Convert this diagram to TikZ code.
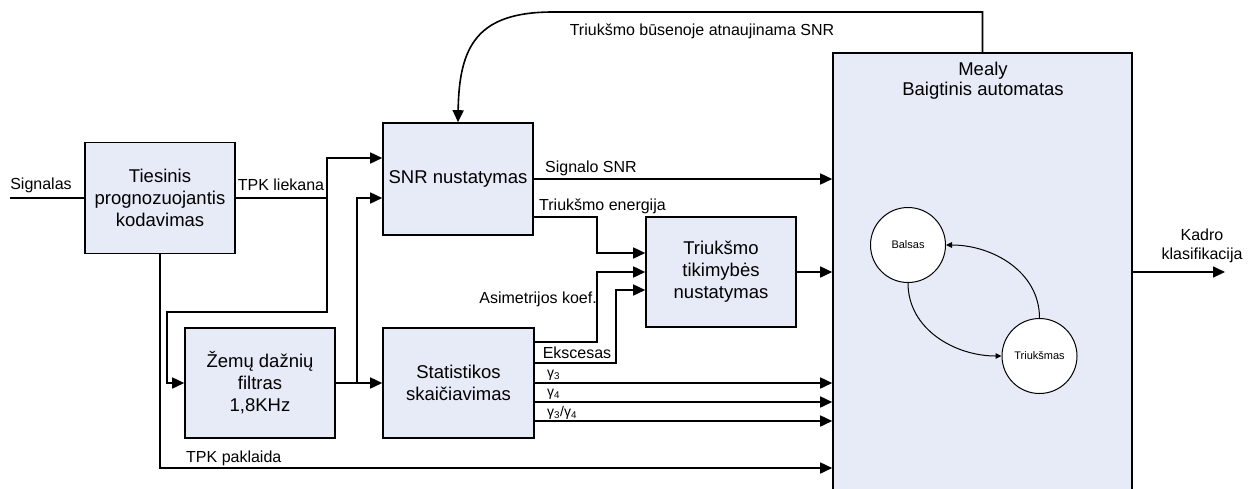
\documentclass[tikz,border=0pt]{standalone}
\usepackage{fontspec}
\setmainfont{Liberation Sans}
\usetikzlibrary{arrows.meta,calc}
\definecolor{boxfill}{RGB}{231,235,247}
\tikzset{
  blockbox/.style={draw=black, fill=boxfill, line width=1.6pt, align=center,
    font=\fontsize{18.5}{22}\selectfont, inner sep=0pt},
  lbl/.style={font=\fontsize{16}{18.5}\selectfont, inner sep=0pt, align=center},
  glbl/.style={font=\fontsize{14}{15}\selectfont, inner sep=0pt, anchor=west},
  wire/.style={line width=1.6pt},
  arr/.style={wire, -{Triangle[length=12pt,width=11pt]}},
  state/.style={circle, draw=black, fill=white, line width=1pt,
    minimum size=75pt, inner sep=0pt, font=\fontsize{11}{12}\selectfont},
  trans/.style={line width=1pt, -{Triangle[length=6pt,width=5.5pt]}}
}
\begin{document}
\begin{tikzpicture}[x=1pt, y=-1pt]
\useasboundingbox (0,0) rectangle (1255,488);

% processing blocks
\node[blockbox, minimum width=150pt, minimum height=111pt] (lpc) at (160,198)
  {Tiesinis\\prognozuojantis\\kodavimas};
\node[blockbox, minimum width=150pt, minimum height=112pt] (snr) at (458,179)
  {SNR nustatymas};
\node[blockbox, minimum width=150pt, minimum height=110pt] (lpf) at (260,383)
  {Žemų dažnių\\filtras\\1,8KHz};
\node[blockbox, minimum width=151pt, minimum height=110pt] (stat) at (458.5,383)
  {Statistikos\\skaičiavimas};
\node[blockbox, minimum width=150pt, minimum height=110pt] (prob) at (721,272)
  {Triukšmo\\tikimybės\\nustatymas};

% finite state machine block (runs past the lower edge)
\begin{scope}
  \clip (0,0) rectangle (1255,488);
  \node[blockbox, minimum width=299pt, minimum height=442pt] (mealy) at (982.5,274) {};
\end{scope}
\node[lbl, font=\fontsize{18.5}{20}\selectfont] (mtitle) at (983,81) {Mealy\\Baigtinis automatas};

\node[state] (balsas) at (908,245) {Balsas};
\node[state] (triuk) at (1039.5,356) {Triukšmas};
\draw[trans] (balsas.south) to[out=-90, in=180] (triuk.west);
\draw[trans] (triuk.north) to[out=90, in=0] (balsas.east);

% input signal
\coordinate (sigin) at (10,198);
\draw[wire] (sigin) -- (lpc.west);
\node[lbl] (lsig) at (41,185) {Signalas};

% LPC residual to SNR estimation and low-pass filter
\draw[arr] (lpc.east) -- (327,198) |- ($(snr.west)+(0,-21)$);
\draw[arr] (327,198) -- (327,312) -- (167,312) |- (lpf.west);
\node[lbl] (lres) at (281,185) {TPK liekana};

% filtered signal
\draw[arr] (lpf.east) -- (stat.west);
\draw[arr] (357,383) |- ($(snr.west)+(0,19)$);

% LPC error to the state machine
\coordinate (perr) at (160,468);
\draw[arr] (lpc.south) -- (perr) -- (perr -| mealy.west);
\node[lbl, anchor=west] (lerr) at (186,458) {TPK paklaida};

% SNR outputs
\draw[arr] (snr.east) -- (snr.east -| mealy.west);
\node[lbl, anchor=west] (lsnr) at (545,168) {Signalo SNR};
\draw[arr] ($(snr.east)+(0,38)$) -- (597,217) |- ($(prob.west)+(0,-19)$);
\node[lbl, anchor=west] (lene) at (539,206) {Triukšmo energija};

% statistics to noise probability
\draw[arr] ($(stat.east)+(0,-41)$) -- (597,342) |- (prob.west);
\node[lbl, anchor=east] (lasy) at (597,299) {Asimetrijos koef.};
\draw[arr] ($(stat.east)+(0,-20)$) -- (616,363) |- ($(prob.west)+(0,18)$);
\node[lbl] (lkur) at (577,353) {Ekscesas};

% statistics to the state machine
\draw[arr] (stat.east) -- (stat.east -| mealy.west);
\draw[arr] ($(stat.east)+(0,19)$) -- ($(stat.east -| mealy.west)+(0,19)$);
\draw[arr] ($(stat.east)+(0,38)$) -- ($(stat.east -| mealy.west)+(0,38)$);
\node[glbl] (lg3) at (547,375) {γ\textsubscript{3}};
\node[glbl] (lg4) at (547,394) {γ\textsubscript{4}};
\node[glbl] (lg34) at (547,413) {γ\textsubscript{3}/γ\textsubscript{4}};

% noise probability to the state machine
\draw[arr] (prob.east) -- (prob.east -| mealy.west);

% feedback: SNR update in noise state
\draw[arr] (mealy.north) -- (982.5,12) -- (553,12) .. controls (478,12) and (459,45) .. (snr.north);
\node[lbl] (lfb) at (702,31) {Triukšmo būsenoje atnaujinama SNR};

% frame classification output
\coordinate (cls) at (1225,272);
\draw[arr] (mealy.east |- cls) -- (cls);
\node[lbl] (lcls) at (1202,246) {Kadro\\klasifikacija};
\end{tikzpicture}
\end{document}
